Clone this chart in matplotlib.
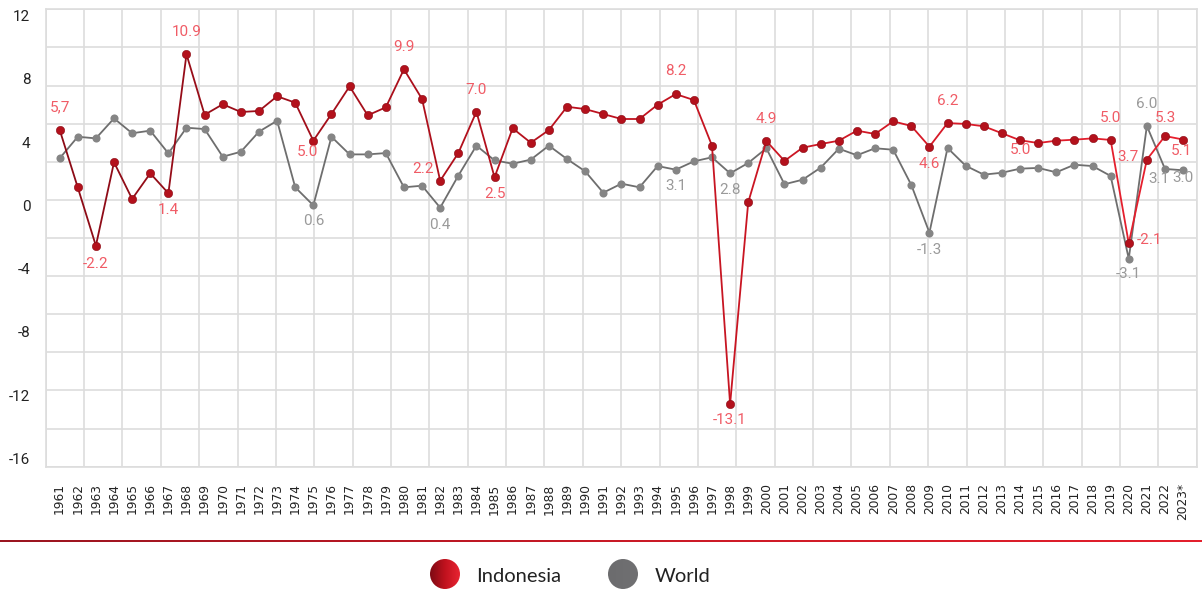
import numpy as np
import matplotlib
matplotlib.use("Agg")
from matplotlib import pyplot as plt
from matplotlib.collections import LineCollection
from matplotlib.colors import LinearSegmentedColormap
from matplotlib.patches import Circle

# GDP growth (%), 1961-2023
years = [str(y) for y in range(1961, 2023)] + ["2023*"]
indonesia = [5.72, 1.76, -2.24, 3.49, 0.97, 2.73, 1.36, 10.9, 6.75, 7.47,
             6.94, 7.01, 8.02, 7.58, 4.97, 6.8, 8.7, 6.71, 7.26, 9.87,
             7.83, 2.22, 4.12, 6.96, 2.46, 5.82, 4.83, 5.7, 7.3, 7.14,
             6.8, 6.46, 6.46, 7.44, 8.17, 7.76, 4.63, -13.11, 0.74, 4.95,
             3.58, 4.49, 4.74, 4.97, 5.66, 5.43, 6.3, 5.98, 4.56, 6.18,
             6.12, 5.96, 5.48, 5.0, 4.81, 4.97, 5.04, 5.13, 5.02, -2.07,
             3.67, 5.29, 5.05]
world = [3.76, 5.24, 5.13, 6.5, 5.48, 5.66, 4.1, 5.86, 5.77, 3.87,
         4.21, 5.59, 6.34, 1.77, 0.53, 5.24, 4.03, 4.03, 4.12, 1.77,
         1.88, 0.37, 2.57, 4.63, 3.62, 3.39, 3.67, 4.63, 3.71, 2.87,
         1.4, 2.02, 1.77, 3.23, 2.98, 3.55, 3.83, 2.73, 3.44, 4.45,
         1.98, 2.29, 3.12, 4.42, 3.97, 4.45, 4.35, 1.93, -1.34, 4.47,
         3.25, 2.64, 2.77, 3.05, 3.1, 2.8, 3.32, 3.23, 2.55, -3.13,
         5.98, 3.03, 2.94]

# value labels: (year, text)
indonesia_labels = [("1961", "5,7"), ("1963", "-2.2"), ("1967", "1.4"), ("1968", "10.9"),
                    ("1975", "5.0"), ("1980", "9.9"), ("1982", "2.2"), ("1984", "7.0"),
                    ("1985", "2.5"), ("1995", "8.2"), ("1998", "-13.1"), ("2000", "4.9"),
                    ("2009", "4.6"), ("2010", "6.2"), ("2014", "5.0"), ("2019", "5.0"),
                    ("2020", "-2.1"), ("2021", "3.7"), ("2022", "5.3"), ("2023*", "5.1")]
world_labels = [("1975", "0.6"), ("1982", "0.4"), ("1995", "3.1"), ("1998", "2.8"),
                ("2009", "-1.3"), ("2020", "-3.1"), ("2021", "6.0"), ("2022", "3.1"),
                ("2023*", "3.0")]
axis_ticks = [12, 8, 4, 0, -4, -8, -12, -16]

# label offsets in pixels (dx, dy), up is positive
red_offsets = [(0, 22), (0, -18), (0, -17), (0, 22), (-6, -11), (0, 22), (-17, 12), (0, 22),
               (0, -17), (0, 23), (0, -16), (0, 22), (0, -17), (0, 22), (0, -10), (0, 22),
               (21, 3), (-19, 3), (0, 18), (-2, -11)]
grey_offsets = [(0, -16), (0, -17), (0, -16), (0, -17), (0, -17), (0, -15), (0, 22),
                (-6, -10), (0, -8)]

W, H = 1202, 589
fig = plt.figure(figsize=(W / 100, H / 100), dpi=100)
L, R, T, B = 45.7, 1196.7, 9.3, 466.7
ax = fig.add_axes([L / W, 1 - B / H, (R - L) / W, (B - T) / H])

x = np.arange(len(years))
ind = np.asarray(indonesia)
wld = np.asarray(world)

# decorative square grid
for i in range(31):
    ax.plot([i / 30, i / 30], [0, 1], transform=ax.transAxes, color="#dddddd", lw=1.2, zorder=0)
for j in range(13):
    ax.plot([0, 1], [j / 12, j / 12], transform=ax.transAxes, color="#dddddd", lw=1.2, zorder=0)

# world
ax.plot(x, wld, color="#6e6e6e", lw=1.3, zorder=2)
ax.scatter(x, wld, s=34, color="#858585", zorder=3, linewidths=0)

# indonesia, line shading from dark to bright red
red_cmap = LinearSegmentedColormap.from_list("ind", ["#8c0b16", "#c0121f", "#e8202e"])
pts = np.column_stack([x, ind])
segs = np.stack([pts[:-1], pts[1:]], axis=1)
lc = LineCollection(segs, colors=red_cmap(np.linspace(0, 1, len(segs))), linewidths=1.3, zorder=4)
ax.add_collection(lc)
ax.scatter(x, ind, s=36, color="#b3111c", edgecolors="#8a0a14", linewidths=0.4, zorder=5)

px = 0.72
for (yr, txt), (dx, dy) in zip(indonesia_labels, red_offsets):
    i = years.index(yr)
    ax.annotate(txt, (x[i], ind[i]), xytext=(dx * px, dy * px), textcoords="offset points",
                ha="center", va="center", fontsize=11, color="#f05c66", family="Roboto", zorder=6)
for (yr, txt), (dx, dy) in zip(world_labels, grey_offsets):
    i = years.index(yr)
    ax.annotate(txt, (x[i], wld[i]), xytext=(dx * px, dy * px), textcoords="offset points",
                ha="center", va="center", fontsize=11, color="#9a9a9a", family="Roboto", zorder=6)

ax.set_xlim(-0.77, 62.75)
ax.set_ylim(-17.41, 13.99)
ax.set_xticks(x)
ax.set_xticklabels(years, rotation=90, fontsize=8.8, family="DejaVu Sans", color="#222222")
ax.tick_params(axis="x", length=0, pad=12)
ax.set_yticks([])
for s in ax.spines.values():
    s.set_color("#dddddd")
    s.set_linewidth(1.2)

# value axis labels as drawn in the source
lab = ax.twinx()
lab.yaxis.set_ticks_position("left")
lab.set_ylim(-16.53, 12.405)
lab.set_yticks(axis_ticks)
lab.set_yticklabels([str(t) for t in axis_ticks], fontsize=11, family="Roboto", color="#222222")
lab.tick_params(axis="y", length=0, pad=11)
for s in lab.spines.values():
    s.set_visible(False)

# separator line
sep_cmap = LinearSegmentedColormap.from_list("sep", ["#9a1520", "#c81a26", "#e3202d"])
sep = fig.add_axes([0, 1 - 542 / H, 1, 2 / H])
sep.imshow(np.linspace(0, 1, 256)[None, :], aspect="auto", cmap=sep_cmap)
sep.axis("off")


def legend_dot(cx, cy, r, cmap):
    dax = fig.add_axes([(cx - r) / W, 1 - (cy + r) / H, 2 * r / W, 2 * r / H])
    im = dax.imshow(np.linspace(0, 1, 64)[None, :], aspect="auto", cmap=cmap, extent=(0, 1, 0, 1))
    im.set_clip_path(Circle((0.5, 0.5), 0.5, transform=dax.transAxes))
    dax.axis("off")


legend_dot(445, 574, 15, LinearSegmentedColormap.from_list("leg", ["#7e0a14", "#c0121e", "#e82432"]))
fig.text(476 / W, 1 - 576 / H, "Indonesia", fontsize=14.5, family="Lato", color="#222222", va="center")
legend_dot(623, 574, 15, LinearSegmentedColormap.from_list("legw", ["#6c6c6e", "#707072"]))
fig.text(655 / W, 1 - 576 / H, "World", fontsize=14.5, family="Lato", color="#222222", va="center")

fig.savefig("out.png", dpi=100)
